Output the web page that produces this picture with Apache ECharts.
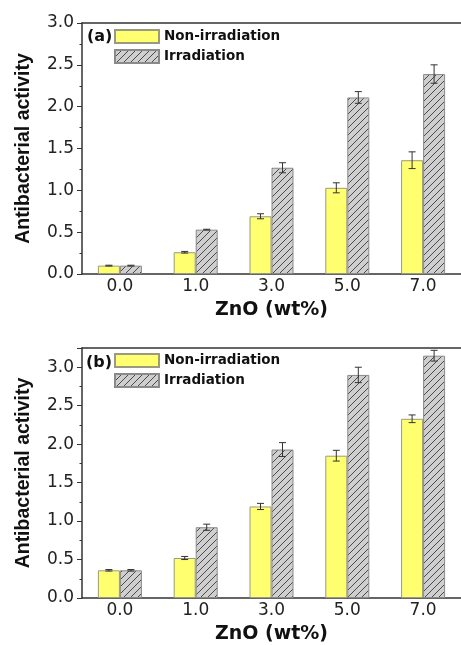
<!DOCTYPE html>
<html>
<head>
<meta charset="utf-8">
<script src="https://cdn.jsdelivr.net/npm/echarts@6/dist/echarts.min.js"></script>
<style>
html,body{margin:0;padding:0;background:#fff;}
#chart{width:461px;height:645px;}
</style>
</head>
<body>
<div id="chart"></div>
<script>
const categories = ['0.0', '1.0', '3.0', '5.0', '7.0'];
const seriesNames = ['Non-irradiation', 'Irradiation'];
const panelLabels = ['(a)', '(b)'];
const yMaxA = 3.0;
const yMaxB = 3.25;
const yInterval = 0.5;

const aNonIrr = [0.10, 0.26, 0.69, 1.03, 1.36];
const aNonIrrErr = [0.005, 0.01, 0.03, 0.06, 0.10];
const aIrr = [0.10, 0.53, 1.27, 2.11, 2.39];
const aIrrErr = [0.005, 0.005, 0.06, 0.07, 0.11];

const bNonIrr = [0.36, 0.52, 1.19, 1.85, 2.33];
const bNonIrrErr = [0.01, 0.02, 0.04, 0.07, 0.05];
const bIrr = [0.36, 0.92, 1.93, 2.90, 3.15];
const bIrrErr = [0.01, 0.04, 0.09, 0.10, 0.07];

const BAR_W = 22;
const FONT = 'DejaVu Sans';

// hatch pattern
const tile = document.createElement('canvas');
tile.width = 7; tile.height = 7;
const tc = tile.getContext('2d');
tc.fillStyle = '#cfcfcf';
tc.fillRect(0, 0, 7, 7);
tc.strokeStyle = '#4a4a4a';
tc.lineWidth = 1;
tc.beginPath();
tc.moveTo(-1, 8); tc.lineTo(8, -1);
tc.moveTo(-1, 1); tc.lineTo(1, -1);
tc.moveTo(6, 8); tc.lineTo(8, 6);
tc.stroke();
const hatch = { image: tile, repeat: 'repeat' };

const yellowStyle = { color: '#ffff70', borderColor: '#9a9a80', borderWidth: 1 };
const grayStyle = { color: hatch, borderColor: '#8a8a8a', borderWidth: 1 };

function errSeries(values, errs, offset, axisIdx) {
  return {
    type: 'custom',
    name: 'err',
    xAxisIndex: axisIdx, yAxisIndex: axisIdx,
    silent: true, z: 10, clip: false,
    data: values.map((v, i) => [i, v, errs[i]]),
    renderItem: function (params, api) {
      const i = api.value(0), v = api.value(1), e = api.value(2);
      const top = api.coord([i, v + e]);
      const bot = api.coord([i, v - e]);
      const x = top[0] + offset;
      const hw = 3.5;
      const st = { stroke: '#333', lineWidth: 1 };
      return {
        type: 'group',
        children: [
          { type: 'line', shape: { x1: x, y1: top[1], x2: x, y2: bot[1] }, style: st },
          { type: 'line', shape: { x1: x - hw, y1: top[1], x2: x + hw, y2: top[1] }, style: st },
          { type: 'line', shape: { x1: x - hw, y1: bot[1], x2: x + hw, y2: bot[1] }, style: st }
        ]
      };
    }
  };
}

function xAxisCfg(idx) {
  return {
    type: 'category', gridIndex: idx, data: categories, position: 'bottom',
    name: 'ZnO (wt%)', nameLocation: 'middle', nameGap: 27,
    nameTextStyle: { fontFamily: FONT, fontWeight: 'bold', fontSize: 19, color: '#111' },
    axisLine: { lineStyle: { color: '#333', width: 1.5 } },
    axisTick: { show: false },
    axisLabel: { fontFamily: FONT, fontSize: 17, color: '#222', margin: 4 }
  };
}

function xTopCfg(idx) {
  return {
    type: 'category', gridIndex: idx, data: categories, position: 'top',
    axisLine: { show: true, lineStyle: { color: '#333', width: 1.5 } },
    axisTick: { show: false },
    axisLabel: { show: false }
  };
}

function yAxisCfg(idx, max, showMax) {
  return {
    type: 'value', gridIndex: idx, min: 0, max: max, interval: yInterval,
    name: 'Antibacterial activity', nameLocation: 'middle', nameGap: 48,
    nameTextStyle: { fontFamily: 'Liberation Sans', fontWeight: 'bold', fontSize: 19.5, color: '#111' },
    axisLine: { show: true, lineStyle: { color: '#333', width: 1.5 } },
    axisTick: { show: true, length: 5, lineStyle: { color: '#333' } },
    minorTick: { show: true, splitNumber: 2, length: 2.5, lineStyle: { color: '#333' } },
    splitLine: { show: false },
    axisLabel: {
      fontFamily: FONT, fontSize: 17, color: '#222', margin: 8,
      showMaxLabel: showMax,
      formatter: v => v.toFixed(1)
    }
  };
}

function legendCfg(top) {
  return {
    orient: 'vertical', left: 114, top: top, padding: 0,
    icon: 'rect',
    itemWidth: 44, itemHeight: 13, itemGap: 5,
    data: seriesNames, selectedMode: false,
    textStyle: { fontFamily: FONT, fontWeight: 'bold', fontSize: 13.5, color: '#111' }
  };
}

const option = {
  animation: false,
  backgroundColor: '#fff',
  title: [
    { text: panelLabels[0], left: 87, top: 29, padding: 0,
      textStyle: { fontFamily: FONT, fontWeight: 'bold', fontSize: 16, color: '#111' } },
    { text: panelLabels[1], left: 86, top: 355, padding: 0,
      textStyle: { fontFamily: FONT, fontWeight: 'bold', fontSize: 16, color: '#111' } }
  ],
  legend: [legendCfg(29), legendCfg(353)],
  grid: [
    { left: 82, top: 23, width: 382, height: 251 },
    { left: 82, top: 348, width: 382, height: 250 }
  ],
  xAxis: [xAxisCfg(0), xAxisCfg(1), xTopCfg(0), xTopCfg(1)],
  yAxis: [yAxisCfg(0, yMaxA, true), yAxisCfg(1, yMaxB, false)],
  series: [
    { type: 'bar', name: seriesNames[0], xAxisIndex: 0, yAxisIndex: 0, data: aNonIrr, barWidth: BAR_W, barGap: '0%', itemStyle: yellowStyle },
    { type: 'bar', name: seriesNames[1], xAxisIndex: 0, yAxisIndex: 0, data: aIrr, barWidth: BAR_W, barGap: '0%', itemStyle: grayStyle },
    { type: 'bar', name: seriesNames[0], xAxisIndex: 1, yAxisIndex: 1, data: bNonIrr, barWidth: BAR_W, barGap: '0%', itemStyle: yellowStyle },
    { type: 'bar', name: seriesNames[1], xAxisIndex: 1, yAxisIndex: 1, data: bIrr, barWidth: BAR_W, barGap: '0%', itemStyle: grayStyle },
    errSeries(aNonIrr, aNonIrrErr, -BAR_W / 2, 0),
    errSeries(aIrr, aIrrErr, BAR_W / 2, 0),
    errSeries(bNonIrr, bNonIrrErr, -BAR_W / 2, 1),
    errSeries(bIrr, bIrrErr, BAR_W / 2, 1)
  ]
};

const chart = echarts.init(document.getElementById('chart'), null, { renderer: 'canvas' });
chart.setOption(option);
</script>
</body>
</html>
